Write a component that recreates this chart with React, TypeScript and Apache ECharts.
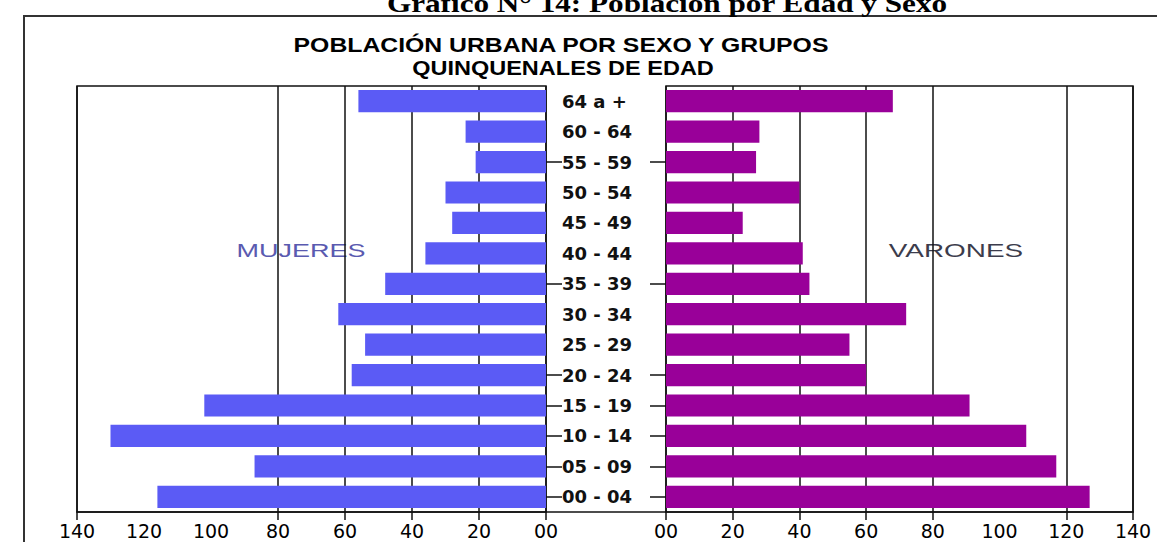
import React, { useEffect, useRef } from 'react';
import * as echarts from 'echarts';

const ageGroups = ['00 - 04', '05 - 09', '10 - 14', '15 - 19', '20 - 24', '25 - 29', '30 - 34', '35 - 39', '40 - 44', '45 - 49', '50 - 54', '55 - 59', '60 - 64', '64 a +'];
const mujeres = [116, 87, 130, 102, 58, 54, 62, 48, 36, 28, 30, 21, 24, 56];
const varones = [127, 117, 108, 91, 60, 55, 72, 43, 41, 23, 40, 27, 28, 68];
const tickLabelValues = [0, 20, 40, 60, 80, 100, 120, 140];
const leftGridValues = [0, 20, 40, 60, 80, 140];
const rightGridValues = [0, 20, 40, 60, 80, 120, 140];
const tickedGroups = ['00 - 04', '05 - 09', '10 - 14', '15 - 19', '20 - 24', '35 - 39', '55 - 59'];
const mainTitle = 'Gráfico N° 14: Población por Edad y Sexo';
const chartTitle = ['POBLACIÓN URBANA POR SEXO Y GRUPOS', 'QUINQUENALES DE EDAD'];
const sideLabels = ['MUJERES', 'VARONES'];

const LINE = '#111';

export default function App() {
  const ref = useRef<HTMLDivElement>(null);
  useEffect(() => {
    if (!ref.current) return;
    const chart = echarts.init(ref.current, null, { renderer: 'svg' });
    const fmt = (v: number) => (v === 0 ? '00' : String(v));
    const axisLabel = {
      customValues: tickLabelValues,
      formatter: fmt,
      margin: 9,
      fontSize: 19,
      fontFamily: '"DejaVu Sans"',
      color: '#000',
    };
    const xCommon = (grid: number, inverse: boolean, gridVals: number[]) => ({
      type: 'value',
      gridIndex: grid,
      min: 0,
      max: 140,
      interval: 20,
      inverse,
      axisLine: { show: true, lineStyle: { color: LINE, width: 1.5 } },
      axisTick: { show: true, length: 8, customValues: gridVals, lineStyle: { color: LINE, width: 1.5 } },
      axisLabel,
      splitLine: { show: true, lineStyle: { color: LINE, width: 1.5 } },
    });
    const catTick = {
      show: true,
      alignWithLabel: true,
      length: 16,
      interval: (_i: number, v: string) => tickedGroups.includes(v),
      lineStyle: { color: LINE, width: 1.5 },
    };
    const textStyle = (text: string, font: string, fill: string) => ({
      text,
      font,
      fill,
      align: 'center',
      verticalAlign: 'middle',
      textAlign: 'center',
      textVerticalAlign: 'middle',
    });
    chart.setOption({
      animation: false,
      backgroundColor: '#fff',
      grid: [
        { left: 77, right: 611, top: 86, bottom: 30, show: true, borderColor: LINE, borderWidth: 1.5 },
        { left: 666, right: 24, top: 86, bottom: 30, show: true, borderColor: LINE, borderWidth: 1.5 },
      ],
      xAxis: [xCommon(0, true, leftGridValues), xCommon(1, false, rightGridValues)],
      yAxis: [
        {
          type: 'category',
          gridIndex: 0,
          data: ageGroups,
          position: 'right',
          axisLine: { show: false },
          axisTick: catTick,
          axisLabel: {
            show: true,
            interval: 0,
            margin: 16,
            align: 'left',
            fontSize: 18,
            fontWeight: 'bold',
            fontFamily: '"DejaVu Sans"',
            color: '#111',
          },
          splitLine: { show: false },
        },
        {
          type: 'category',
          gridIndex: 1,
          data: ageGroups,
          position: 'left',
          axisLine: { show: false },
          axisTick: catTick,
          axisLabel: { show: false },
          splitLine: { show: false },
        },
      ],
      series: [
        {
          name: 'Mujeres',
          type: 'bar',
          xAxisIndex: 0,
          yAxisIndex: 0,
          data: mujeres,
          barCategoryGap: '27%',
          itemStyle: { color: '#5b5bf5' },
        },
        {
          name: 'Varones',
          type: 'bar',
          xAxisIndex: 1,
          yAxisIndex: 1,
          data: varones,
          barCategoryGap: '27%',
          itemStyle: { color: '#990099' },
        },
      ],
      graphic: [
        {
          type: 'rect',
          silent: true,
          z: -10,
          shape: { x: 24, y: 16, width: 1200, height: 600 },
          style: { fill: 'none', stroke: '#333', lineWidth: 2 },
        },
        {
          type: 'line',
          silent: true,
          shape: { x1: 546, y1: 512, x2: 666, y2: 512 },
          style: { stroke: LINE, lineWidth: 1.5 },
        },
        {
          type: 'text',
          x: 667,
          y: 3,
          scaleX: 1.2,
          style: textStyle(mainTitle, 'bold 26px "Liberation Serif"', '#000'),
        },
        {
          type: 'text',
          x: 561,
          y: 45,
          scaleX: 1.18,
          style: textStyle(chartTitle[0], 'bold 21px "Liberation Sans"', '#000'),
        },
        {
          type: 'text',
          x: 563,
          y: 68,
          scaleX: 1.12,
          style: textStyle(chartTitle[1], 'bold 21px "Liberation Sans"', '#000'),
        },
        {
          type: 'text',
          x: 301,
          y: 251,
          scaleX: 1.5,
          style: textStyle(sideLabels[0], '18px "Liberation Sans"', '#5a5ab0'),
        },
        {
          type: 'text',
          x: 956,
          y: 251,
          scaleX: 1.55,
          style: textStyle(sideLabels[1], '18px "Liberation Sans"', '#3c3c4c'),
        },
      ],
    });
    return () => chart.dispose();
  }, []);
  return (
    <div
      ref={ref}
      style={{ position: 'absolute', left: 0, top: 0, width: 1157, height: 542, background: '#fff' }}
    />
  );
}
